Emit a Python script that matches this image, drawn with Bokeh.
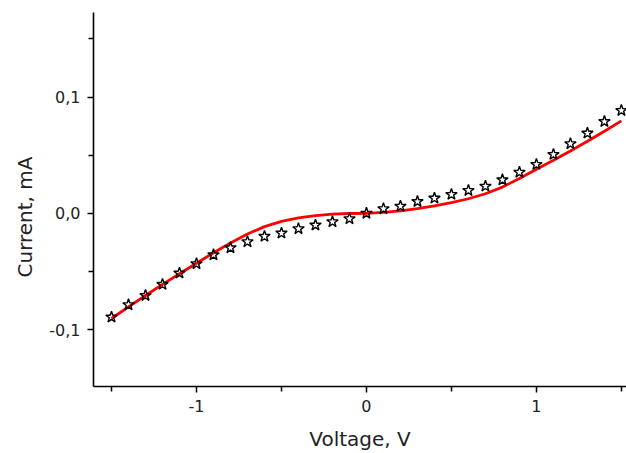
import math
from bokeh.plotting import figure
from bokeh.models import Range1d, FixedTicker, Title
from bokeh.embed import file_html
from bokeh.resources import INLINE

# ---- data ----
voltage = [-1.5, -1.4, -1.3, -1.2, -1.1, -1.0, -0.9, -0.8, -0.7, -0.6, -0.5,
           -0.4, -0.3, -0.2, -0.1, 0.0, 0.1, 0.2, 0.3, 0.4, 0.5,
           0.6, 0.7, 0.8, 0.9, 1.0, 1.1, 1.2, 1.3, 1.4, 1.5]
current_measured = [-0.0893, -0.0787, -0.0707, -0.0612, -0.0515, -0.0434, -0.0357,
                    -0.0297, -0.0245, -0.0199, -0.0171, -0.0133, -0.0102, -0.0073,
                    -0.0047, 0.0000, 0.0039, 0.0061, 0.0101, 0.0130, 0.0162,
                    0.0196, 0.0233, 0.0288, 0.0353, 0.0420, 0.0506, 0.0598,
                    0.0689, 0.0789, 0.0884]
current_model = [-0.0905, -0.0805, -0.0707, -0.0612, -0.0520, -0.0430, -0.0340,
                 -0.0255, -0.0178, -0.0115, -0.0070, -0.0040, -0.0020, -0.0008,
                 -0.0002, 0.0000, 0.0008, 0.0021, 0.0040, 0.0064, 0.0092,
                 0.0125, 0.0168, 0.0225, 0.0300, 0.0378, 0.0456, 0.0536,
                 0.0620, 0.0706, 0.0795]

x_major = [-1, 0, 1]
x_minor = [-1.5, -0.5, 0.5, 1.5]
x_labels = {-1: "-1", 0: "0", 1: "1"}
y_major = [-0.1, 0.0, 0.1]
y_minor = [-0.15, -0.05, 0.05, 0.15]
y_labels = {-0.1: "-0,1", 0.0: "0,0", 0.1: "0,1"}
x_title = "Voltage, V"
y_title = "Current, mA"

X0, X1 = -1.606, 1.53
Y0, Y1 = -0.149, 0.1727

p = figure(width=626, height=453, output_backend="svg", toolbar_location=None,
           x_range=Range1d(X0, X1), y_range=Range1d(Y0, Y1),
           min_border_left=93, min_border_right=0, min_border_top=12,
           min_border_bottom=67)
p.outline_line_color = None
p.grid.visible = False
p.background_fill_color = "white"
p.border_fill_color = "white"

p.line(voltage, current_model, line_color="#ff0000", line_width=2.8)
p.scatter(voltage, current_measured, marker="star", size=12,
          fill_color=None, line_color="black", line_width=1.4)

font = "DejaVu Sans"
for ax, major, minor, labels in ((p.xaxis[0], x_major, x_minor, x_labels),
                                 (p.yaxis[0], y_major, y_minor, y_labels)):
    ax.ticker = FixedTicker(ticks=major, minor_ticks=minor)
    ax.major_label_overrides = labels
    ax.axis_line_color = "black"
    ax.axis_line_width = 1.6
    ax.major_tick_line_color = "black"
    ax.minor_tick_line_color = "black"
    ax.major_tick_line_width = 1.5
    ax.minor_tick_line_width = 1.5
    ax.major_tick_out = 6
    ax.major_tick_in = 0
    ax.minor_tick_out = 5
    ax.minor_tick_in = 0
    ax.major_label_text_font = font
    ax.major_label_text_font_size = "16px"
    ax.major_label_text_color = "#222222"
    ax.major_label_standoff = 7

xa = p.xaxis[0]
xa.axis_label = x_title
xa.axis_label_text_font = font
xa.axis_label_text_font_size = "20px"
xa.axis_label_text_font_style = "normal"
xa.axis_label_text_color = "#222222"
xa.axis_label_standoff = 12

p.add_layout(Title(text=y_title, align="left", offset=109, vertical_align="bottom",
                   standoff=20, text_font=font, text_font_size="20px",
                   text_font_style="normal", text_color="#222222"), "left")

open("out.html", "w").write(file_html(p, INLINE))
